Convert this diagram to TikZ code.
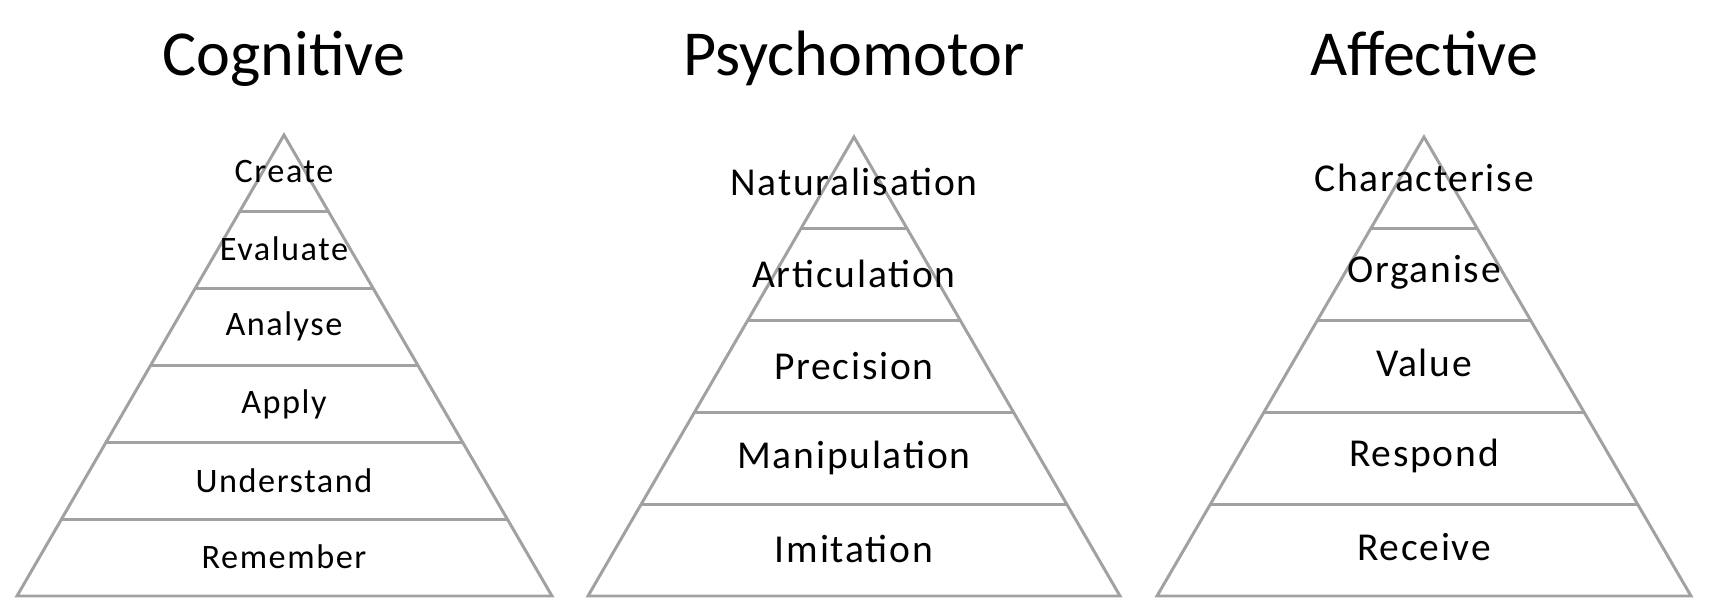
\documentclass[tikz,border=0pt]{standalone}
\usepackage{fontspec}
\setmainfont{Carlito}
\usepackage{tikz}
\usetikzlibrary{calc}
\tikzset{
title/.style = {inner sep=0pt, anchor=base, font=\fontsize{36.5}{40}\selectfont},
level/.style = {inner sep=0pt, font=\fontsize{#1}{#1}\selectfont\addfontfeature{LetterSpace=4.5}},
level/.default = 22.5, % size of the label font
edge/.style = {draw=black!37, line width=1.7pt, line join=miter},
}

\begin{document}
\begin{tikzpicture}[x=0.02cm, y=-0.02cm]
    \useasboundingbox (0,0) rectangle (1712,608);
    % corners of the three pyramids
    \coordinate (cogTop) at (284,135);
    \coordinate (cogL) at (17,596);
    \coordinate (cogR) at (552,596);
    \coordinate (psyTop) at (854,137);
    \coordinate (psyL) at (588,596);
    \coordinate (psyR) at (1120,596);
    \coordinate (affTop) at (1424,137);
    \coordinate (affL) at (1157,596);
    \coordinate (affR) at (1691,596);

    \draw[edge] (cogTop) -- (cogL) -- (cogR) -- cycle;
    \draw[edge] (psyTop) -- (psyL) -- (psyR) -- cycle;
    \draw[edge] (affTop) -- (affL) -- (affR) -- cycle;
    \foreach \k in {1,...,5}
        \draw[edge] ($(cogTop)!\k/6!(cogL)$) -- ($(cogTop)!\k/6!(cogR)$);
    \foreach \k in {1,...,4}{
        \draw[edge] ($(psyTop)!\k/5!(psyL)$) -- ($(psyTop)!\k/5!(psyR)$);
        \draw[edge] ($(affTop)!\k/5!(affL)$) -- ($(affTop)!\k/5!(affR)$);
    }

    \node[title] (cogTitle) at (284,76) {Cognitive};
    \node[title] (psyTitle) at (854,76) {Psychomotor};
    \node[title] (affTitle) at (1424,76) {Affective};

    \node[level=19.5] (create) at (284,172) {Create};
    \node[level=19.5] (evaluate) at (284,249) {Evaluate};
    \node[level=19.5] (analyse) at (284,326) {Analyse};
    \node[level=19.5] (apply) at (284,404) {Apply};
    \node[level=19.5] (understand) at (284,481) {Understand};
    \node[level=19.5] (remember) at (284,557) {Remember};

    \node[level] (natural) at (854,182) {Naturalisation};
    \node[level] (artic) at (854,274) {Articulation};
    \node[level] (precision) at (854,366) {Precision};
    \node[level] (manip) at (854,458) {Manipulation};
    \node[level] (imitation) at (854,549) {Imitation};

    \node[level] (charact) at (1424,178) {Characterise};
    \node[level] (organise) at (1424,272) {Organise};
    \node[level] (value) at (1424,363) {Value};
    \node[level] (respond) at (1424,456) {Respond};
    \node[level] (receive) at (1424,547) {Receive};
\end{tikzpicture}
\end{document}
